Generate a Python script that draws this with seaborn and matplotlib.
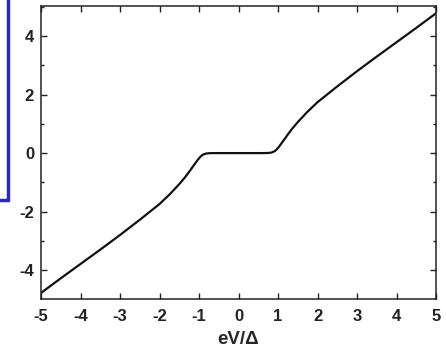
import matplotlib
matplotlib.use("Agg")
import matplotlib.pyplot as plt
from matplotlib.lines import Line2D
from matplotlib.ticker import MultipleLocator
import seaborn as sns
import pandas as pd

# Data
voltage = [-5.0, -4.5, -4.0, -3.5, -3.0, -2.5, -2.0, -1.75, -1.5, -1.35, -1.25, -1.15,
           -1.08, -1.02, -0.97, -0.92, -0.87, -0.82, -0.75, -0.6, -0.3, 0.0,
           0.3, 0.6, 0.75, 0.82, 0.87, 0.92, 0.97, 1.02, 1.08, 1.15, 1.25, 1.35,
           1.5, 1.75, 2.0, 2.5, 3.0, 3.5, 4.0, 4.5, 5.0]
current = [-4.78, -4.28, -3.79, -3.3, -2.8, -2.28, -1.74, -1.42, -1.06, -0.82, -0.64, -0.45,
           -0.32, -0.21, -0.13, -0.07, -0.035, -0.015, -0.004, 0.0, 0.0, 0.0,
           0.0, 0.0, 0.004, 0.015, 0.035, 0.07, 0.13, 0.21, 0.32, 0.45, 0.64, 0.82,
           1.06, 1.42, 1.74, 2.28, 2.8, 3.3, 3.79, 4.28, 4.78]
x_ticks = [-5, -4, -3, -2, -1, 0, 1, 2, 3, 4, 5]
y_ticks = [-4, -2, 0, 2, 4]
x_label = "eV/\u0394"

df = pd.DataFrame({"V": voltage, "I": current})

sns.set_style("ticks")
plt.rcParams["font.family"] = ["Liberation Sans", "DejaVu Sans"]
plt.rcParams["font.weight"] = "bold"

fig = plt.figure(figsize=(4.46, 3.51), dpi=100)
ax = fig.add_axes([0.092, 0.148, 0.8856, 0.835])

sns.lineplot(data=df, x="V", y="I", ax=ax, color="#111111", linewidth=1.6,
             sort=False, estimator=None)

ax.set_xlim(-5, 5)
ax.set_ylim(-4.99, 5.03)
ax.set_xticks(x_ticks)
ax.set_yticks(y_ticks)
ax.yaxis.set_minor_locator(MultipleLocator(1))
ax.set_xticklabels([str(t) for t in x_ticks], fontweight="bold", fontsize=12)
ax.set_yticklabels([str(t) for t in y_ticks], fontweight="bold", fontsize=12)
ax.set_xlabel(x_label, fontweight="bold", fontsize=13.5, labelpad=5)
ax.set_ylabel("")

ax.tick_params(which="both", direction="in", top=True, right=True, width=1.0,
               colors="#222222")
ax.tick_params(which="major", length=4)
ax.tick_params(which="minor", length=2.5)
ax.tick_params(axis="x", which="major", pad=7)
ax.tick_params(axis="y", which="major", pad=5)
for s in ax.spines.values():
    s.set_linewidth(1.1)
    s.set_color("#222222")

# partial blue frame on the left edge
fig.add_artist(Line2D([8 / 446, 8 / 446], [1.0, 1 - 200 / 351], transform=fig.transFigure,
                      color="#2a2ab8", linewidth=2.5))
fig.add_artist(Line2D([0, 8 / 446], [1 - 200 / 351, 1 - 200 / 351], transform=fig.transFigure,
                      color="#2a2ab8", linewidth=2.5))

fig.savefig("out.png", dpi=100)
